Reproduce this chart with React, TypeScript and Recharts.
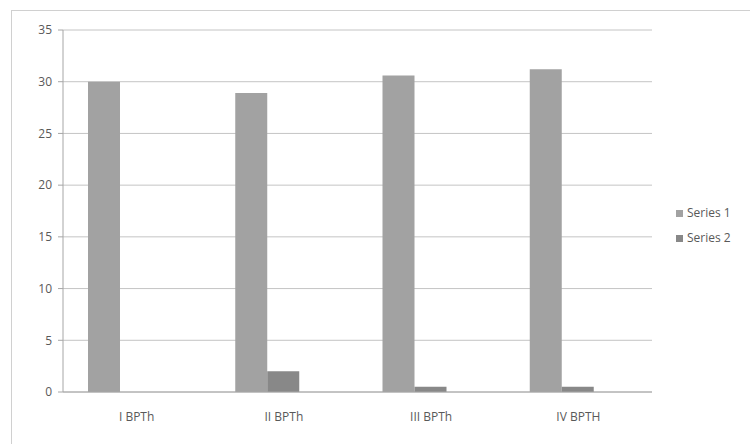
import { BarChart, Bar, XAxis, YAxis, CartesianGrid, Legend } from 'recharts'

const categories = ['I BPTh', 'II BPTh', 'III BPTh', 'IV BPTH']
const series1 = [30, 28.9, 30.6, 31.2]
const series2 = [0, 2, 0.5, 0.5]
// Excel kept an empty third series, which still takes up a slot in each group
const series3 = [0, 0, 0, 0]
const yTicks = [0, 5, 10, 15, 20, 25, 30, 35]

const data = categories.map((name, i) => ({
  name,
  'Series 1': series1[i],
  'Series 2': series2[i],
  'Series 3': series3[i],
}))

const tickStyle = { fontSize: 12, fill: '#595959', fontFamily: 'Open Sans, Liberation Sans, sans-serif' }

export default function App() {
  return (
    <div style={{ position: 'absolute', left: 0, top: 0, width: 750, height: 444, background: '#fff' }}>
      {/* chart frame */}
      <div
        style={{
          position: 'absolute', left: 11, top: 10, width: 745, height: 440,
          border: '1px solid #d0d0d0', boxSizing: 'border-box',
        }}
      />
      <BarChart
        width={750}
        height={444}
        data={data}
        margin={{ top: 30, right: 98, left: 13, bottom: 22 }}
        barCategoryGap={25}
        barGap={0}
      >
        <CartesianGrid vertical={false} stroke="#c4c4c4" />
        <XAxis
          dataKey="name"
          tick={tickStyle}
          tickLine={false}
          axisLine={{ stroke: '#a6a6a6' }}
          height={30}
          tickMargin={14}
        />
        <YAxis
          domain={[0, 35]}
          ticks={yTicks}
          tick={tickStyle}
          width={50}
          axisLine={{ stroke: '#a6a6a6' }}
          tickLine={{ stroke: '#a6a6a6' }}
          tickSize={5}
          tickMargin={6}
        />
        <Legend
          layout="vertical"
          align="center"
          verticalAlign="middle"
          iconType="square"
          iconSize={7}
          wrapperStyle={{
            left: 676, top: 200, width: 80, lineHeight: '25px',
            fontSize: 12, fontFamily: 'Open Sans, Liberation Sans, sans-serif',
          }}
          formatter={(v: string) => <span style={{ color: '#595959' }}>{v}</span>}
        />
        <Bar dataKey="Series 1" fill="#a2a2a2" isAnimationActive={false} />
        <Bar dataKey="Series 2" fill="#888888" isAnimationActive={false} />
        <Bar dataKey="Series 3" fill="#bbbbbb" legendType="none" isAnimationActive={false} />
      </BarChart>
    </div>
  )
}
